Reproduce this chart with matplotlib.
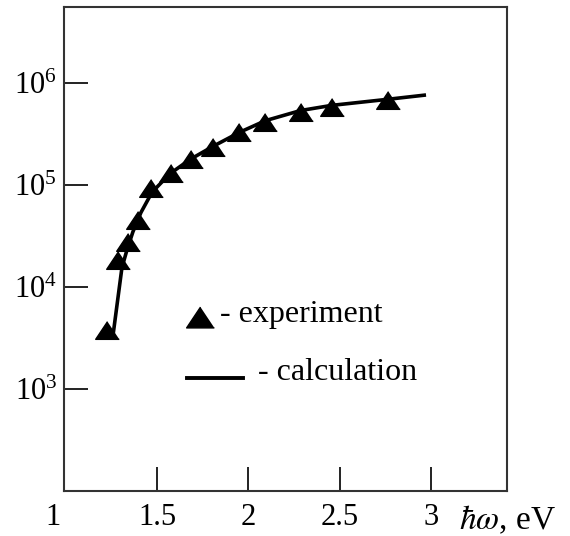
import matplotlib
matplotlib.use('Agg')
import matplotlib.pyplot as plt

plt.rcParams['font.family'] = ['Liberation Serif', 'DejaVu Serif']
plt.rcParams['mathtext.fontset'] = 'stix'

# experiment (triangles)
x_exp = [1.225, 1.286, 1.341, 1.396, 1.467, 1.577, 1.687, 1.808, 1.951, 2.093, 2.286, 2.456, 2.764]
y_exp = [3800, 18200, 27500, 45700, 93300, 132000, 178000, 234000, 331000, 417000, 525000, 575000, 676000]

# calculation (line)
x_calc = [1.258, 1.308, 1.335, 1.368, 1.412, 1.473, 1.571, 1.681, 1.808, 1.956, 2.093, 2.286, 2.456, 2.764, 2.962]
y_calc = [3240, 15500, 22900, 34700, 53700, 85100, 129000, 178000, 240000, 331000, 427000, 537000, 603000, 692000, 759000]

xticks = [1.5, 2, 2.5, 3]
xtick_labels = ['1.5', '2', '2.5', '3']
yticks = [1e3, 1e4, 1e5, 1e6]
ytick_labels = [r'$\mathregular{10^{3}}$', r'$\mathregular{10^{4}}$',
                r'$\mathregular{10^{5}}$', r'$\mathregular{10^{6}}$']

tri = [(0, 0.75), (-1, -0.75), (1, -0.75)]

fig = plt.figure(figsize=(5.7, 5.36), dpi=100)
ax = fig.add_axes([0.1123, 0.084, 0.7772, 0.903])

ax.plot(x_calc, y_calc, color='black', lw=2.6, zorder=2)
ax.plot(x_exp, y_exp, ls='none', marker=tri, ms=17, color='black', zorder=3)

ax.set_yscale('log')
ax.set_xlim(0.991, 3.415)
ax.set_ylim(1e2, 10 ** 6.745)

ax.set_xticks(xticks)
ax.set_xticklabels(xtick_labels)
ax.set_yticks(yticks)
ax.set_yticklabels(ytick_labels)
ax.minorticks_off()
ax.tick_params(direction='in', length=17, width=1.4, color='#222222',
               labelsize=22)
ax.tick_params(axis='x', pad=9)
ax.tick_params(axis='y', pad=5)
for s in ax.spines.values():
    s.set_linewidth(1.5)
    s.set_color('#333333')

# "1" label sits left of the corner
ax.annotate('1', xy=(1, 0), xycoords=('data', 'axes fraction'),
            xytext=(-9, -9), textcoords='offset points',
            ha='center', va='top', fontsize=22)
ax.annotate(r'$\hbar\omega$, eV', xy=(1, 0), xycoords='axes fraction',
            xytext=(0, -9), textcoords='offset points',
            ha='center', va='top', fontsize=24)

# legend drawn by hand
ax.plot([0.307], [0.36], ls='none', marker=tri, ms=20, color='black',
        transform=ax.transAxes, clip_on=False)
ax.text(0.352, 0.364, '- experiment', transform=ax.transAxes,
        ha='left', va='center', fontsize=23)
ax.plot([0.278, 0.404], [0.233, 0.233], color='black', lw=2.8,
        transform=ax.transAxes)
ax.text(0.438, 0.244, '- calculation', transform=ax.transAxes,
        ha='left', va='center', fontsize=23)

plt.savefig('out.png', dpi=100)
